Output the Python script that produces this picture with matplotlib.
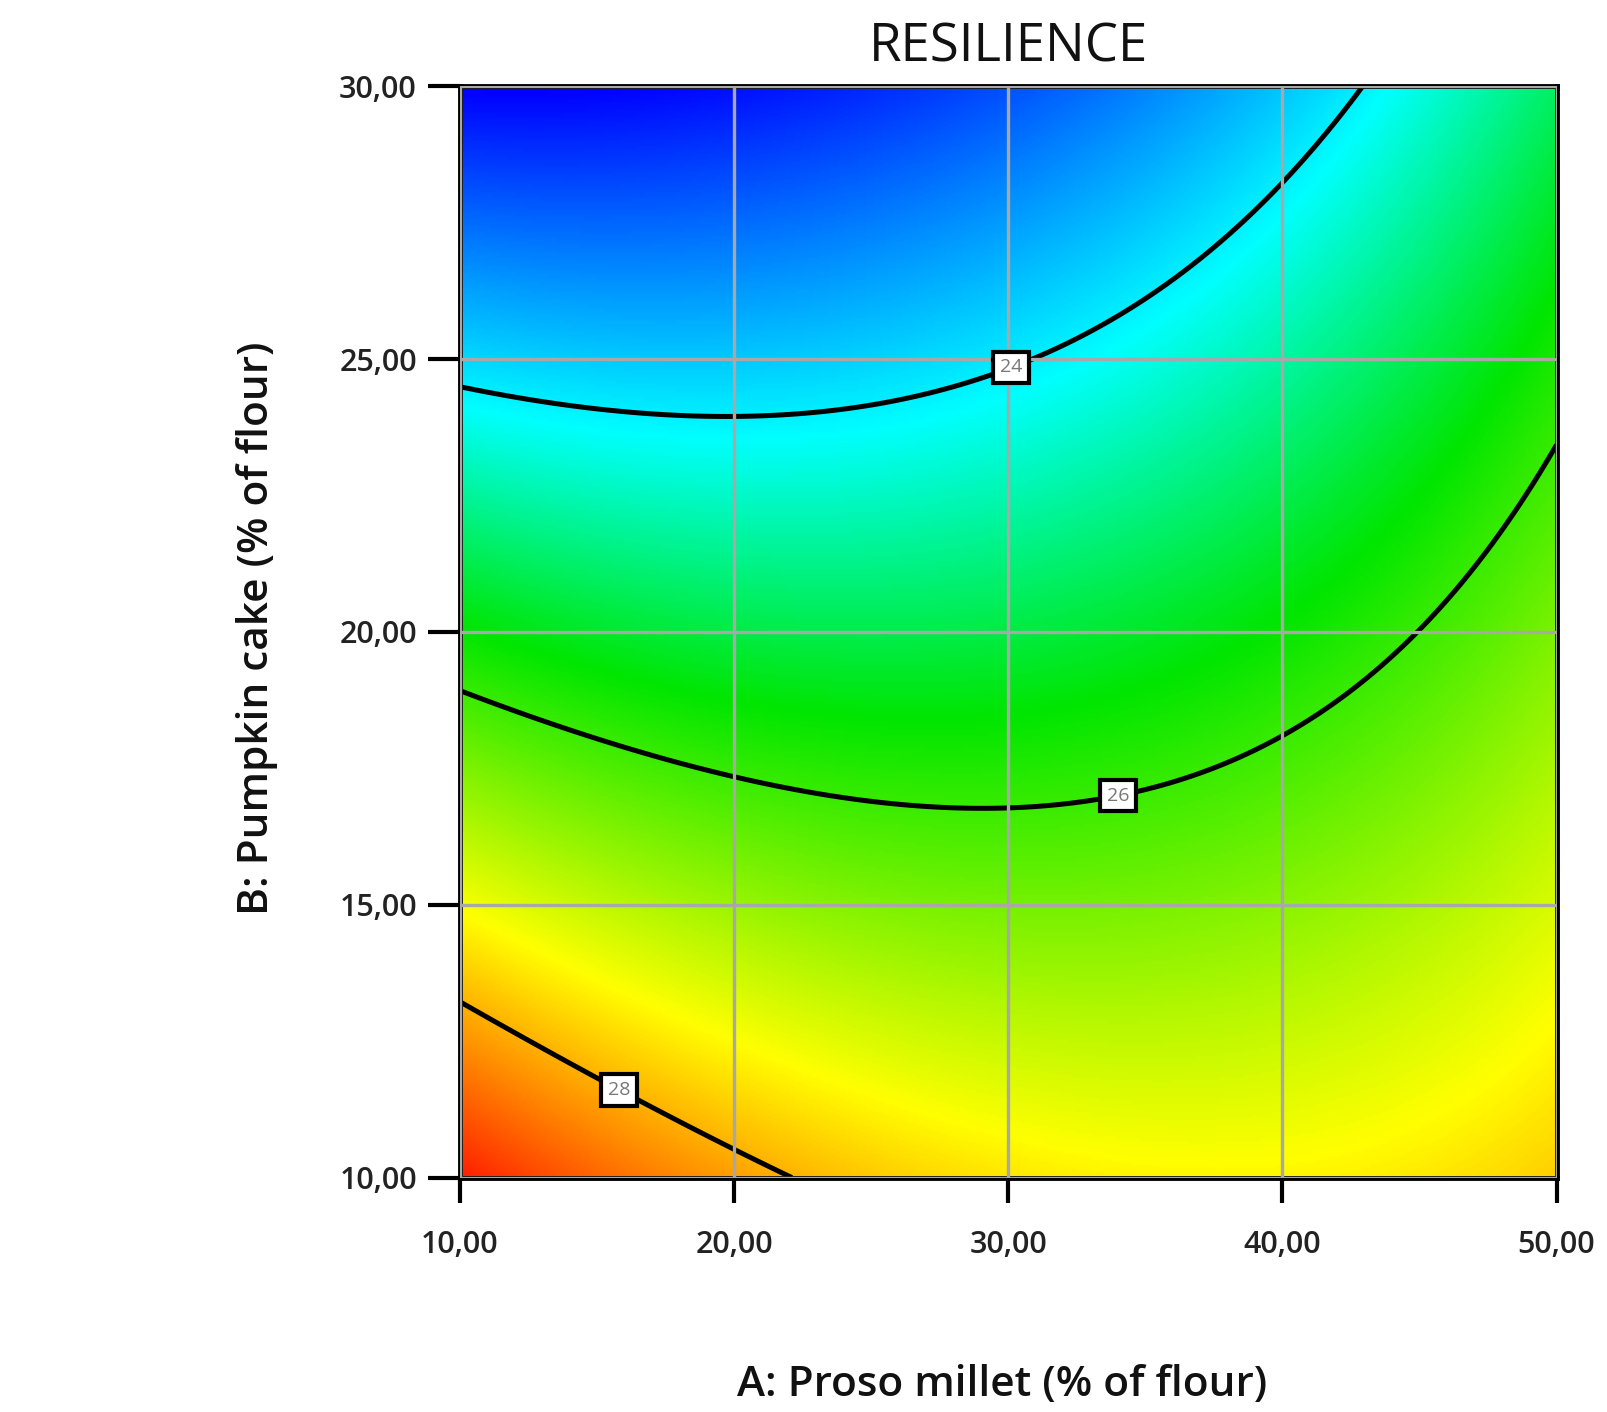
import numpy as np
import matplotlib as mpl
mpl.use('Agg')
import matplotlib.pyplot as plt
from matplotlib.colors import LinearSegmentedColormap

plt.rcParams['font.family'] = ['Open Sans', 'DejaVu Sans']

# quadratic response-surface model of resilience, coded factors
# a = (A - 30) / 20, b = (B - 20) / 10
coef_terms = ['1', 'a', 'b', 'a2', 'b2', 'ab']
coef_values = [25.21, 0.4323, -2.473, 0.8394, -0.0744, 1.0933]

contour_levels = [24, 26, 28]
label_spots = [(30.0, 25.0), (34.0, 17.0), (16.0, 11.8)]

x_ticks = [10, 20, 30, 40, 50]
y_ticks = [10, 15, 20, 25, 30]
x_tick_labels = ['10,00', '20,00', '30,00', '40,00', '50,00']
y_tick_labels = ['10,00', '15,00', '20,00', '25,00', '30,00']

# Design-Expert style colour ramp (blue -> cyan -> green -> yellow -> red)
cmap = LinearSegmentedColormap.from_list('de', [(0.0, '#0000ff'), (0.29, '#00ffff'),
                                                (0.49, '#00e600'), (0.74, '#ffff00'),
                                                (1.0, '#ff0000')])

A = np.linspace(10, 50, 400)
B = np.linspace(10, 30, 400)
AA, BB = np.meshgrid(A, B)
a = (AA - 30) / 20.
b = (BB - 20) / 10.
c = dict(zip(coef_terms, coef_values))
Z = c['1'] + c['a'] * a + c['b'] * b + c['a2'] * a * a + c['b2'] * b * b + c['ab'] * a * b

fig = plt.figure(figsize=(16.08, 14.12), dpi=100)
ax = fig.add_axes([0.286, 0.166, 0.682, 0.773])

ax.imshow(Z, origin='lower', extent=[10, 50, 10, 30], aspect='auto', cmap=cmap,
          vmin=21.98, vmax=29.35, interpolation='bilinear', zorder=0)

ax.set_xticks(x_ticks)
ax.set_yticks(y_ticks)
ax.set_xticklabels(x_tick_labels)
ax.set_yticklabels(y_tick_labels)
ax.grid(True, color='#a8a8a8', lw=2.4, zorder=1)
ax.set_axisbelow(False)

cs = ax.contour(AA, BB, Z, levels=contour_levels, colors='k', linewidths=3.6, zorder=2)
labels = ax.clabel(cs, manual=label_spots, inline=False, fmt='%d', fontsize=14, colors='#777777')
for t in labels:
    t.set_rotation(0)
    t.set_bbox(dict(boxstyle='square,pad=0.35', fc='white', ec='black', lw=3))
    t.set_zorder(5)

ax.set_xlim(10, 50)
ax.set_ylim(10, 30)

for s in ax.spines.values():
    s.set_linewidth(3.5)

ax.tick_params(axis='y', length=23, width=3, pad=8, labelsize=22, labelcolor='#222222')
ax.tick_params(axis='x', length=18, width=3, pad=20, labelsize=22, labelcolor='#222222')
for t in ax.get_xticklabels() + ax.get_yticklabels():
    t.set_fontweight('semibold')

ax.set_title('RESILIENCE', fontsize=38, pad=18, color='#111111')
fig.text(0.623, 0.004, 'A: Proso millet (% of flour)', fontsize=30.5, ha='center', va='bottom',
         color='#111111', fontweight='semibold')
fig.text(0.160, 0.555, 'B: Pumpkin cake (% of flour)', fontsize=30.5, ha='center', va='center',
         rotation=90, color='#111111', fontweight='semibold')

fig.savefig('out.png')
